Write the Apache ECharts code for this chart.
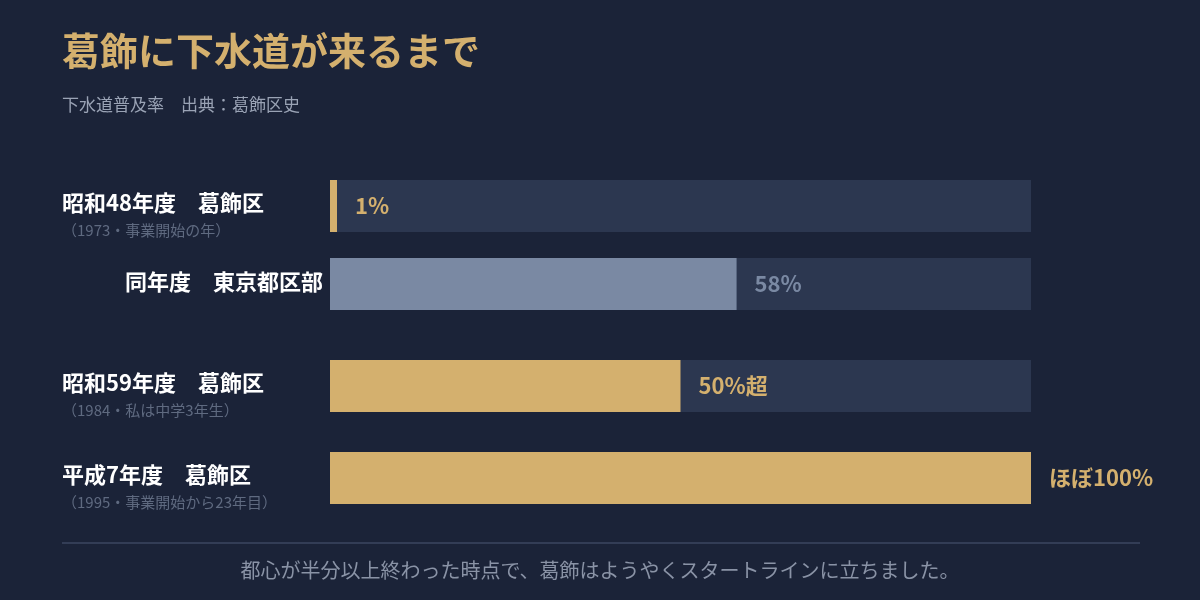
<!DOCTYPE html>
<html><head><meta charset="utf-8">
<script src="https://cdn.jsdelivr.net/npm/echarts@6/dist/echarts.min.js"></script>
<style>html,body{margin:0;background:#1b2338}#c{width:1200px;height:600px}</style>
</head><body><div id="c"></div>
<script>
const categories=['昭和48年度　葛飾区','同年度　東京都区部','昭和59年度　葛飾区','平成7年度　葛飾区'];
const subLabels=['（1973・事業開始の年）','','（1984・私は中学3年生）','（1995・事業開始から23年目）'];
const values=[1,58,50,100];
const valueLabels=['1%','58%','50%超','ほぼ100%'];
const barColors=['#d4b06e','#7a89a3','#d4b06e','#d4b06e'];
const tops=[180,258,360,452];
const F='"Noto Sans CJK JP", sans-serif';
const grids=[],xAxes=[],yAxes=[],series=[],graphic=[];
tops.forEach((t,i)=>{
  grids.push({left:330,width:701,top:t,height:52});
  xAxes.push({gridIndex:i,type:'value',min:0,max:100,show:false});
  yAxes.push({gridIndex:i,type:'category',data:[categories[i]],show:false});
  series.push({type:'bar',xAxisIndex:i,yAxisIndex:i,data:[values[i]],barWidth:52,
    itemStyle:{color:barColors[i]},showBackground:true,backgroundStyle:{color:'#2c3750'},
    label:{show:true,position:'right',distance:18,formatter:valueLabels[i],
      color:barColors[i],fontSize:22,fontWeight:'bold',fontFamily:F},silent:true});
  const isRight=i===1;
  graphic.push({type:'text',left:isRight?null:62,right:isRight?1200-323:null,top:(subLabels[i]?t+25:t+26)-13,
    style:{text:categories[i],fill:'#ffffff',font:'bold 22px '+F,textVerticalAlign:'middle'}});
  if(subLabels[i])graphic.push({type:'text',left:62,top:t+43,
    style:{text:subLabels[i],fill:'#5f6a80',font:'15px '+F}});
});
graphic.push({type:'text',left:62,top:32,style:{text:'葛飾に下水道が来るまで',fill:'#d4b06e',font:'bold 38px '+F}});
graphic.push({type:'text',left:62,top:96,style:{text:'下水道普及率　出典：葛飾区史',fill:'#9aa3b5',font:'17px '+F}});
graphic.push({type:'line',shape:{x1:62,y1:543,x2:1140,y2:543},style:{stroke:'#3d4760',lineWidth:1.5}});
graphic.push({type:'text',left:'center',top:560,style:{text:'都心が半分以上終わった時点で、葛飾はようやくスタートラインに立ちました。',fill:'#8a93a6',font:'20px '+F}});
const chart=echarts.init(document.getElementById('c'));
chart.setOption({backgroundColor:'#1b2338',animation:false,grid:grids,xAxis:xAxes,yAxis:yAxes,series,graphic});
</script></body></html>
